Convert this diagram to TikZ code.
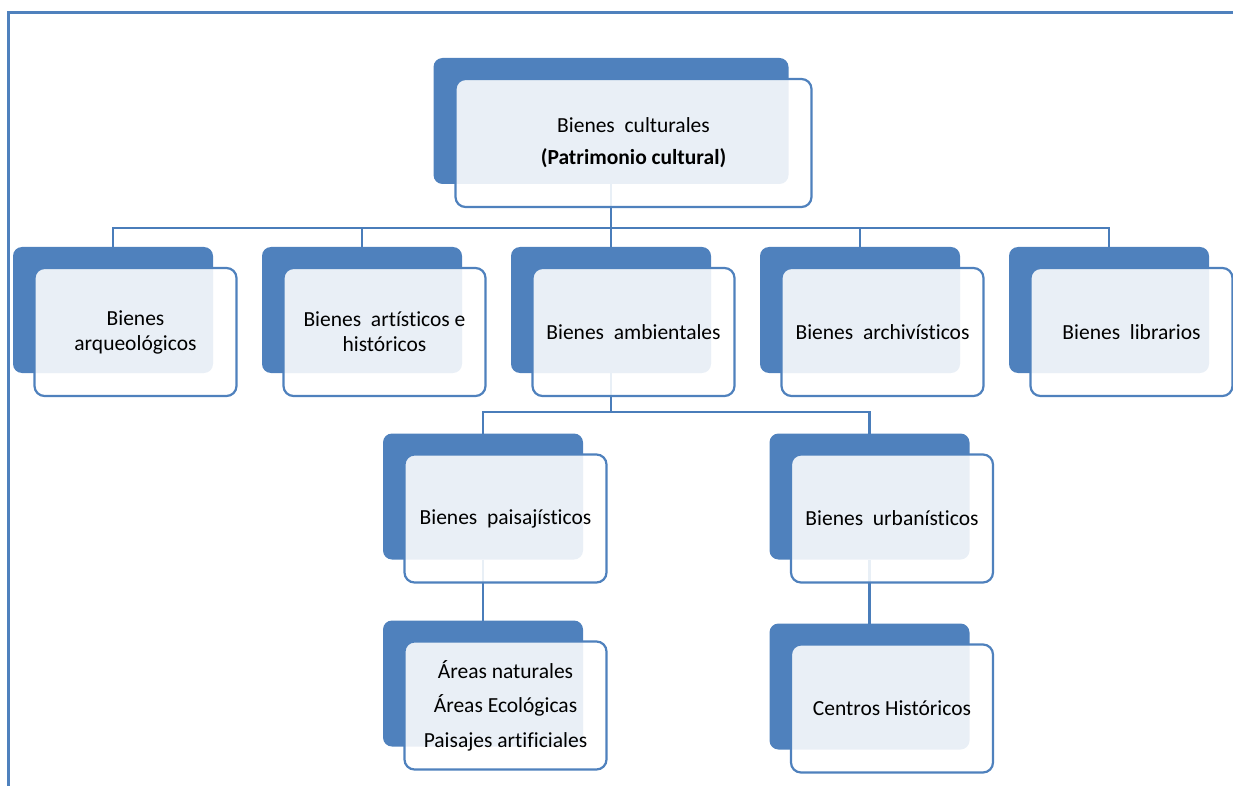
\documentclass[tikz,border=0pt]{standalone}
\usepackage{fontspec}
\setmainfont[Ligatures=NoCommon]{Carlito}
\usetikzlibrary{positioning}
\definecolor{boxblue}{HTML}{4F81BD}
\definecolor{linkblue}{HTML}{4A7DBA}
\def\Bn{Bienes~ }

\begin{document}
\begin{tikzpicture}[x=1pt,y=-1pt,% pixel-like units, y grows downwards
		every node/.style={
			align=center,  		% "\\" breaks lines
			font=\fontsize{21.5}{25}\selectfont
		},
		back/.style={rectangle,rounded corners=9pt,fill=boxblue,draw=none,
			minimum width=200pt,minimum height=126pt,inner sep=0pt,outer sep=0pt},
		front/.style={rectangle,rounded corners=10pt,draw=boxblue,line width=2.2pt,
			fill=white,fill opacity=0.88,text opacity=1,
			minimum width=202pt,minimum height=128pt,inner sep=2pt,
			xshift=22.5pt,yshift=-22pt},
		link/.style={draw=linkblue,line width=2.5pt},
		frame/.style={draw=boxblue,line width=2.5pt}
	]
	\useasboundingbox (0,0) rectangle (1233,786);
	\draw[frame] (8.5,800) -- (8.5,12.5) -- (1240,12.5);
	% blue shadow boxes
	\node[back,minimum width=355pt](B0) at (611,121) {};
	\node[back](B1) at (113,310) {};
	\node[back](B2)[right=49pt of B1] {};
	\node[back](B3)[right=49pt of B2] {};
	\node[back](B4)[right=49pt of B3] {};
	\node[back](B5)[right=49pt of B4] {};
	\node[back](B6) at (483,496.5) {};
	\node[back](B7) at (869.5,496.5) {};
	\node[back](B8) at (483,683.5) {};
	\node[back](B9) at (869.5,686.5) {};
	% connectors
	\coordinate (J0) at (611,228);
	\coordinate (J1) at (611,412);
	\draw[link] (B0) -- (J0);
	\foreach \n in {1,...,5}
		\draw[link] (J0) -| (B\n);
	\draw[link] (B3) -- (J1);
	\draw[link] (J1) -| (B6);
	\draw[link] (J1) -| (B7);
	\draw[link] (B6) -- (B8);
	\draw[link] (B7) -- (B9);
	% text boxes
	\node[front,minimum width=356pt,font=\fontsize{21.5}{32}\selectfont](F0) at (B0) {\Bn culturales\\ \textbf{(Patrimonio cultural)}};
	\node[front](F1) at (B1) {Bienes\\arqueológicos};
	\node[front](F2) at (B2) {\Bn artísticos e\\históricos};
	\node[front](F3) at (B3) {\Bn ambientales};
	\node[front](F4) at (B4) {\Bn archivísticos};
	\node[front](F5) at (B5) {\Bn librarios};
	\node[front](F6) at (B6) {\Bn paisajísticos};
	\node[front](F7) at (B7) {\Bn urbanísticos};
	\node[front,font=\fontsize{21.5}{34.5}\selectfont](F8) at (B8) {Áreas naturales\\Áreas Ecológicas\\Paisajes artificiales};
	\node[front](F9) at (B9) {Centros Históricos};
\end{tikzpicture}
\end{document}
